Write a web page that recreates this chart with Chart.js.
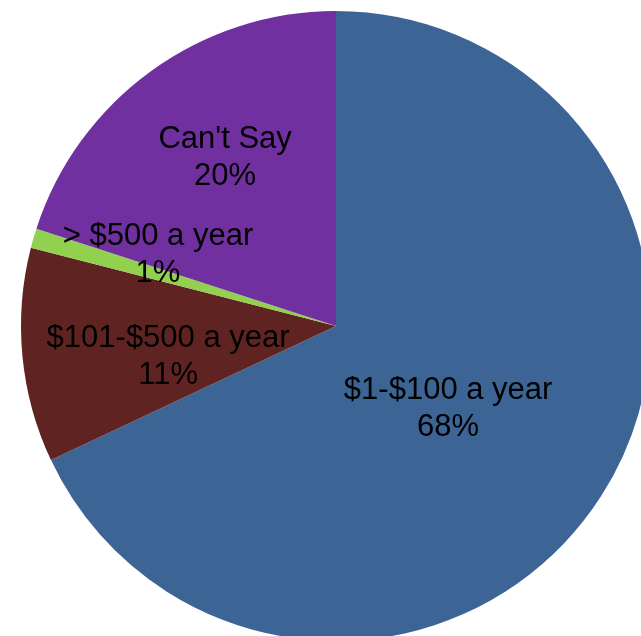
<!DOCTYPE html>
<html>
<head>
  <title>Annual Spend Pie</title>
  <script src="https://cdn.jsdelivr.net/npm/chart.js"></script>
  <style>
    body { margin: 0; overflow: hidden; background: #fff; }
    canvas { display: block; }
  </style>
</head>
<body>
  <canvas id="pie-chart" width="672" height="652"></canvas>
  <script>
    // Chart data
    const categories = ['$1-$100 a year', '$101-$500 a year', '> $500 a year', "Can't Say"];
    const shares = [68, 11, 1, 20];
    const sliceColors = ['#3C6595', '#5F2421', '#92D050', '#7030A0'];

    // label block centre, as fraction of radius from pie centre (x, y)
    const labelOffsets = [[0.356, 0.263], [-0.533, 0.098], [-0.565, -0.225], [-0.352, -0.532]];

    const sliceLabels = {
      id: 'sliceLabels',
      afterDatasetsDraw(chart) {
        const ctx = chart.ctx;
        const meta = chart.getDatasetMeta(0);
        const total = shares.reduce((a, b) => a + b, 0);
        ctx.save();
        ctx.font = '31px "Liberation Sans", Arial, sans-serif';
        ctx.fillStyle = '#000';
        ctx.textAlign = 'center';
        ctx.textBaseline = 'middle';
        meta.data.forEach((arc, i) => {
          const r = arc.outerRadius;
          const cx = arc.x + labelOffsets[i][0] * r;
          const cy = arc.y + labelOffsets[i][1] * r;
          const pct = Math.round(shares[i] / total * 100) + '%';
          ctx.fillText(categories[i], cx, cy - 18.5);
          ctx.fillText(pct, cx, cy + 18.5);
        });
        ctx.restore();
      }
    };

    const ctx = document.getElementById('pie-chart').getContext('2d');
    new Chart(ctx, {
      type: 'pie',
      data: {
        labels: categories,
        datasets: [{
          data: shares,
          backgroundColor: sliceColors,
          borderWidth: 0,
        }],
      },
      options: {
        responsive: false,
        animation: false,
        layout: { padding: { left: 21, right: 21, top: 11, bottom: 11 } },
        plugins: {
          legend: { display: false },
          tooltip: { enabled: false },
        },
      },
      plugins: [sliceLabels],
    });
  </script>
</body>
</html>
